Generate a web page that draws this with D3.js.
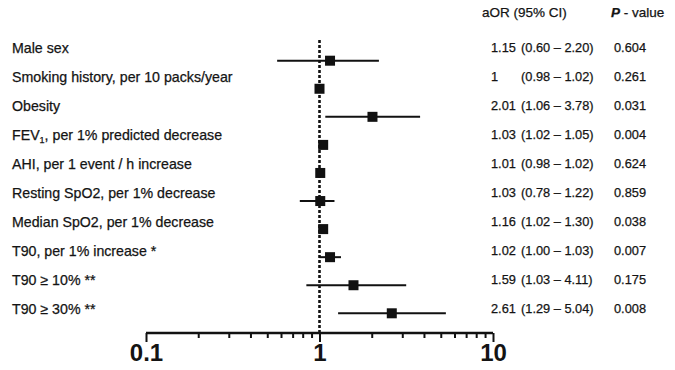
<!DOCTYPE html>
<html>
<head>
<meta charset="utf-8">
<script src="https://cdn.jsdelivr.net/npm/d3@7/dist/d3.min.js"></script>
<style>
  html, body { margin: 0; padding: 0; background: #fff; }
  svg { display: block; }
  text { font-family: "Liberation Sans", Arial, sans-serif; fill: #141414; stroke: #141414; stroke-width: 0.25px; }
</style>
</head>
<body>
<svg id="chart" width="675" height="370"></svg>
<script>
// ---- data ----
const categories = [
  "Male sex",
  "Smoking history, per 10 packs/year",
  "Obesity",
  "FEV1, per 1% predicted decrease",
  "AHI, per 1 event / h increase",
  "Resting SpO2, per 1% decrease",
  "Median SpO2, per 1% decrease",
  "T90, per 1% increase *",
  "T90 \u2265 10% **",
  "T90 \u2265 30% **"
];
const plotOR = [1.15, 1.00, 2.02, 1.05, 1.01, 1.01, 1.05, 1.15, 1.57, 2.61];
const plotLo = [0.57, 0.98, 1.08, 1.02, 0.98, 0.77, 1.02, 1.00, 0.84, 1.28];
const plotHi = [2.20, 1.02, 3.80, 1.05, 1.02, 1.22, 1.06, 1.33, 3.16, 5.35];
// table text
const aorText = ["1.15", "1", "2.01", "1.03", "1.01", "1.03", "1.16", "1.02", "1.59", "2.61"];
const ciText = ["(0.60 \u2013 2.20)", "(0.98 \u2013 1.02)", "(1.06 \u2013 3.78)", "(1.02 \u2013 1.05)",
  "(0.98 \u2013 1.02)", "(0.78 \u2013 1.22)", "(1.02 \u2013 1.30)", "(1.00 \u2013 1.03)",
  "(1.03 \u2013 4.11)", "(1.29 \u2013 5.04)"];
const pValues = ["0.604", "0.261", "0.031", "0.004", "0.624", "0.859", "0.038", "0.007", "0.175", "0.008"];
const majorTicks = [0.1, 1, 10];
const minorTicks = [0.2, 0.3, 0.4, 0.5, 0.6, 0.7, 0.8, 0.9, 2, 3, 4, 5, 6, 7, 8, 9];
const tickLabels = ["0.1", "1", "10"];
const refValue = 1;

// ---- layout ----
const svg = d3.select("#chart");
const ink = "#111";
const x = d3.scaleLog().domain([0.1, 10]).range([146, 493]);
const idx = d3.range(categories.length);
const yMark = d3.scalePoint().domain(idx).range([60.7, 313.3]);
const yText = d3.scalePoint().domain(idx).range([48, 309]);
const axisY = 333;

// reference dashed line
svg.append("line")
  .attr("x1", x(refValue)).attr("x2", x(refValue))
  .attr("y1", 40).attr("y2", axisY)
  .attr("stroke", ink).attr("stroke-width", 2.6)
  .attr("stroke-dasharray", "3,2");

// CI lines
svg.append("g").selectAll("line").data(idx).join("line")
  .attr("x1", i => x(plotLo[i])).attr("x2", i => x(plotHi[i]))
  .attr("y1", i => yMark(i)).attr("y2", i => yMark(i))
  .attr("stroke", ink).attr("stroke-width", 2);

// squares
const sq = 10;
svg.append("g").selectAll("rect").data(idx).join("rect")
  .attr("x", i => x(plotOR[i]) - sq / 2).attr("y", i => yMark(i) - sq / 2)
  .attr("width", sq).attr("height", sq).attr("fill", ink);

// axis
const axisG = svg.append("g").attr("transform", `translate(0,${axisY})`);
axisG.call(d3.axisBottom(x).tickValues(majorTicks).tickSize(9)
  .tickFormat((d, i) => tickLabels[i]));
const minorG = svg.append("g").attr("transform", `translate(0,${axisY})`);
minorG.call(d3.axisBottom(x).tickValues(minorTicks).tickSize(5).tickFormat(""));
minorG.select(".domain").remove();
axisG.select(".domain").attr("d", `M${x(0.1)},0H${x(10)}`).attr("stroke", ink).attr("stroke-width", 2.5);
svg.selectAll(".tick line").attr("stroke", ink).attr("stroke-width", 2);
axisG.selectAll(".tick text")
  .attr("y", 28).attr("dy", 0)
  .style("font-family", "'Liberation Sans', Arial, sans-serif")
  .style("font-size", "24px").style("font-weight", "bold")
  .style("fill", "#141414").style("stroke", "none");

// left labels
const lab = svg.append("g").selectAll("text").data(idx).join("text")
  .attr("x", 12).attr("y", i => yText(i)).attr("dy", "0.35em")
  .style("font-size", "14.2px");
lab.each(function(i) {
  const t = d3.select(this);
  const s = categories[i];
  if (s.startsWith("FEV1")) {
    t.append("tspan").text("FEV");
    t.append("tspan").text("1").style("font-size", "9px").attr("dy", "3");
    t.append("tspan").text(s.slice(4)).attr("dy", "-3");
  } else {
    t.text(s);
  }
});

// headers
svg.append("text").attr("x", 482).attr("y", 12).attr("dy", "0.35em")
  .style("font-size", "13.5px").text("aOR (95% CI)");
const ph = svg.append("text").attr("x", 611).attr("y", 12).attr("dy", "0.35em")
  .style("font-size", "13.5px");
ph.append("tspan").text("P").style("font-style", "italic").style("font-weight", "bold");
ph.append("tspan").text(" - value");

// table values
svg.append("g").selectAll("text").data(idx).join("text")
  .attr("x", 491).attr("y", i => yText(i)).attr("dy", "0.35em")
  .style("font-size", "12.8px").text(i => aorText[i]);
svg.append("g").selectAll("text").data(idx).join("text")
  .attr("x", 521).attr("y", i => yText(i)).attr("dy", "0.35em")
  .style("font-size", "12.8px").text(i => ciText[i]);
svg.append("g").selectAll("text").data(idx).join("text")
  .attr("x", 614).attr("y", i => yText(i)).attr("dy", "0.35em")
  .style("font-size", "12.8px").text(i => pValues[i]);
</script>
</body>
</html>
